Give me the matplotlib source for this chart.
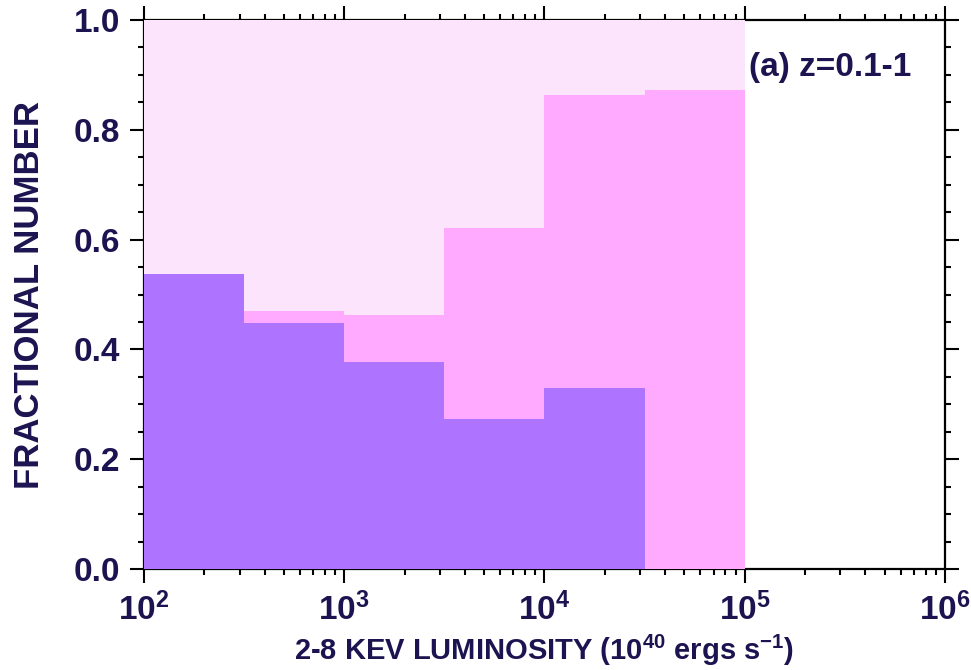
import numpy as np
import matplotlib
matplotlib.use("Agg")
import matplotlib.pyplot as plt
from matplotlib.ticker import LogLocator, MultipleLocator, FormatStrFormatter

plt.rcParams['font.family'] = ['Liberation Sans', 'DejaVu Sans']
plt.rcParams['mathtext.fontset'] = 'custom'
plt.rcParams['mathtext.rm'] = 'Liberation Sans'
plt.rcParams['mathtext.bf'] = 'Liberation Sans:bold'

# half-decade luminosity bins (log10 of edges)
log_edges = [2.0, 2.5, 3.0, 3.5, 4.0, 4.5, 5.0]
# fraction of all sources in each bin
frac_all = [1.0, 1.0, 1.0, 1.0, 1.0, 1.0]
frac_mid = [0.537, 0.470, 0.463, 0.621, 0.863, 0.872]
frac_low = [0.537, 0.448, 0.377, 0.273, 0.330, 0.0]

edges = [10 ** e for e in log_edges]
label_color = '#1c1450'

fig = plt.figure(figsize=(9.71, 6.70), dpi=100)
ax = fig.add_axes([0.1483, 0.1507, 0.8249, 0.8194])

ax.stairs(frac_all, edges, fill=True, color='#fde4fd', zorder=3)
ax.stairs(frac_mid, edges, fill=True, color='#ffaaff', zorder=3)
ax.stairs(frac_low, edges, fill=True, color='#ae73ff', zorder=3)

ax.set_xscale('log')
ax.set_xlim(1e2, 1e6)
ax.set_ylim(0, 1)

ax.xaxis.set_major_locator(LogLocator(base=10, numticks=10))
ax.xaxis.set_minor_locator(LogLocator(base=10, subs=np.arange(2, 10), numticks=20))
ax.yaxis.set_major_locator(MultipleLocator(0.2))
ax.yaxis.set_minor_locator(MultipleLocator(0.05))
ax.yaxis.set_major_formatter(FormatStrFormatter('%.1f'))

ax.tick_params(which='both', direction='out', top=True, right=True,
               width=1.5, colors='black', labelcolor=label_color, labelsize=24)
ax.tick_params(which='major', length=10, pad=7)
ax.tick_params(which='minor', length=4)
for lbl in ax.get_xticklabels() + ax.get_yticklabels():
    lbl.set_fontweight('bold')

for s in ax.spines.values():
    s.set_linewidth(1.6)

ax.set_xlabel('2-8 KEV LUMINOSITY (10$^{\\mathbf{40}}$ ergs s$^{\\mathbf{-1}}$)',
              fontsize=21, fontweight='bold', color=label_color, labelpad=4)
ax.set_ylabel('FRACTIONAL NUMBER', fontsize=25, fontweight='bold',
              color=label_color, labelpad=20)

ax.text(0.755, 0.914, '(a) z=0.1-1', transform=ax.transAxes, fontsize=24,
        fontweight='bold', color=label_color, va='center', ha='left', zorder=4)

fig.savefig('out.png', dpi=100)
